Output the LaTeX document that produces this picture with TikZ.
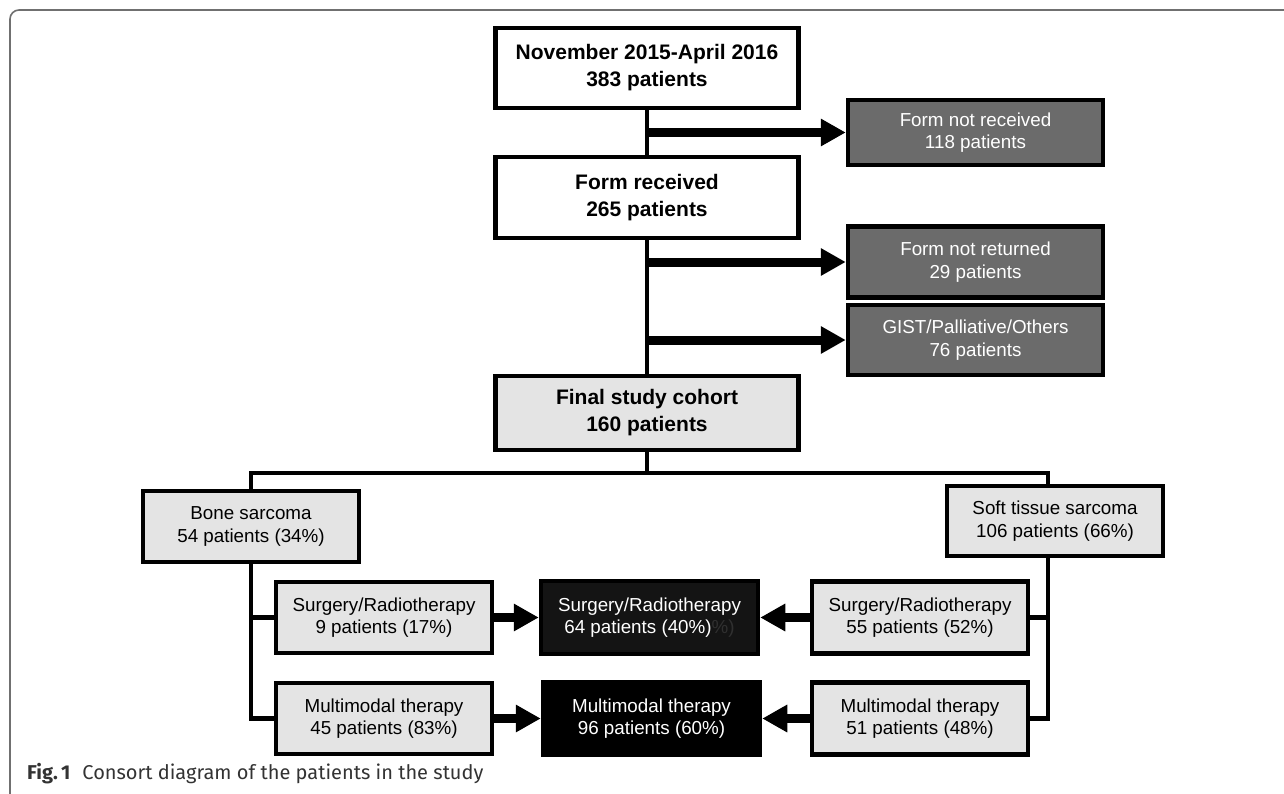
\documentclass[tikz,border=0pt]{standalone}
\usepackage{fontspec}
\setmainfont{Liberation Sans}
\newfontfamily\capfont{Fira Sans}
\usetikzlibrary{arrows.meta}
\definecolor{lightbox}{HTML}{E4E4E4}
\definecolor{darkbox}{HTML}{6B6B6B}
\definecolor{centerbox}{HTML}{141414}
\definecolor{ghost}{HTML}{303030}
\definecolor{framegray}{HTML}{707070}
\definecolor{capgray}{HTML}{333333}
\tikzset{
  box/.style={draw=black, line width=4.5pt, inner sep=0pt, align=center,
    font=\fontsize{18.8}{22.5}\selectfont, text=black},
  boldbox/.style={box, fill=white, minimum width=303pt, font=\fontsize{21}{27}\selectfont\bfseries},
  greybox/.style={box, fill=darkbox, text=white, minimum width=255pt},
  lightbox/.style={box, fill=lightbox, minimum width=216pt},
  blackbox/.style={box, text=white, minimum width=217pt, minimum height=73pt},
  conn/.style={line width=4.5pt, line cap=rect},
  arr/.style={line width=9pt, -{Triangle[length=25pt,width=26pt]}},
}
\begin{document}
\begin{tikzpicture}[x=1pt,y=-1pt]
\useasboundingbox (0,0) rectangle (1284,793);
\begin{scope}
\clip (0,0) rectangle (1284,793);
\draw[framegray, line width=1.6pt, rounded corners=9pt] (1300,10) -- (10,10) -- (10,803) -- (1300,803);
\end{scope}

% main column
\node[boldbox, minimum height=80pt] (n1) at (647,68) {November 2015-April 2016\\383 patients};
\node[boldbox, minimum height=81pt] (n2) at (647,197.5) {Form received\\265 patients};
\node[boldbox, fill=lightbox, minimum height=74pt] (n3) at (647,413) {Final study cohort\\160 patients};

% exclusions
\node[greybox, minimum height=65pt] (r1) at (975.5,132.5) {Form not received\\118 patients};
\node[greybox, minimum height=71pt] (r2) at (975.5,262) {Form not returned\\29 patients};
\node[greybox, minimum height=70pt] (r3) at (975.5,340) {GIST/Palliative/Others\\76 patients};

% groups
\node[lightbox, minimum height=71pt] (bone) at (251,526.5) {Bone sarcoma\\54 patients (34\%)};
\node[lightbox, minimum height=70pt] (soft) at (1055,521) {Soft tissue sarcoma\\106 patients (66\%)};

\node[lightbox, minimum height=71pt] (lsr) at (384,617.5) {Surgery/Radiotherapy\\9 patients (17\%)};
\node[lightbox, minimum height=71pt] (lmm) at (384,718.5) {Multimodal therapy\\45 patients (83\%)};
\node[lightbox, minimum height=72pt] (rsr) at (920,617.5) {Surgery/Radiotherapy\\55 patients (52\%)};
\node[lightbox, minimum height=72pt] (rmm) at (920,718.5) {Multimodal therapy\\51 patients (48\%)};

\node[blackbox, fill=centerbox] (csr) at (649.5,617.5) {Surgery/Radiotherapy\\64 patients (40\%){\color{ghost}\%)}};
\node[blackbox, fill=black] (cmm) at (651.5,718.5) {Multimodal therapy\\96 patients (60\%)};

% connectors
\coordinate (bt) at (251,473);
\coordinate (st) at (1048,473);
\draw[conn] (n1.south) -- (n2.north);
\draw[conn] (n2.south) -- (n3.north);
\draw[conn] (n3.south) -- (n3.south |- bt);
\draw[conn] (bt |- bone.north) -- (bt) -- (st) -- (st |- soft.north);
\draw[conn] (bt |- bone.south) -- (bt |- lmm.west) -- (lmm.west);
\draw[conn] (bt |- lsr.west) -- (lsr.west);
\draw[conn] (st |- soft.south) -- (st |- rmm.east) -- (rmm.east);
\draw[conn] (st |- rsr.east) -- (rsr.east);

\draw[arr] (n1.south |- r1.west) -- (r1.west);
\draw[arr] (n2.south |- r2.west) -- (r2.west);
\draw[arr] (n2.south |- r3.west) -- (r3.west);
\draw[arr] (lsr.east) -- (csr.west);
\draw[arr] (rsr.west) -- (csr.east);
\draw[arr] (lmm.east) -- (cmm.west);
\draw[arr] (rmm.west) -- (cmm.east);

% caption
\node[anchor=base west, inner sep=0pt, text=capgray, font=\capfont\fontsize{20}{22}\selectfont] (cap) at (27,779) {{\bfseries Fig.\,1}\hspace{0.6em}Consort diagram of the patients in the study};
\end{tikzpicture}
\end{document}
